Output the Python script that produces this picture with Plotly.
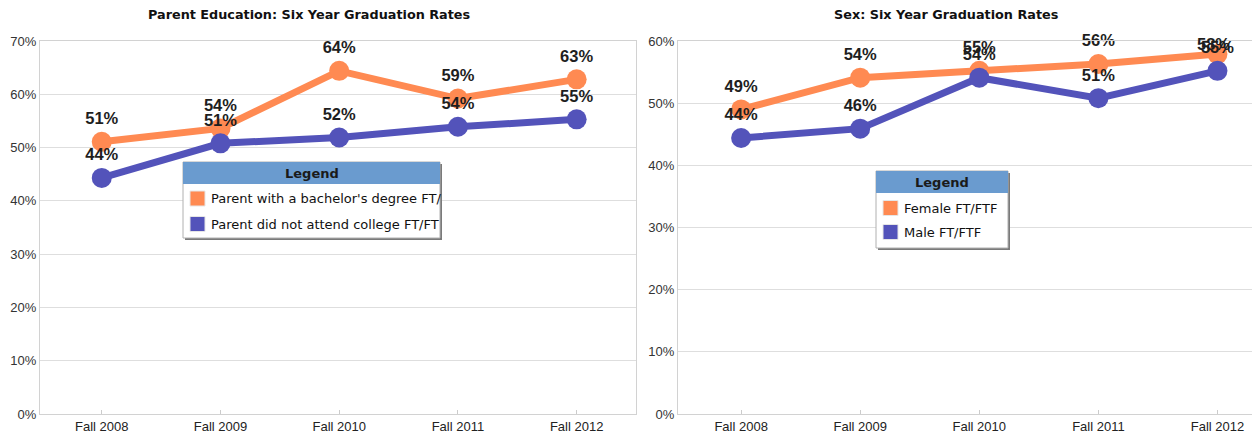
import plotly.graph_objects as go

# ---------------- data ----------------
categories = ["Fall 2008", "Fall 2009", "Fall 2010", "Fall 2011", "Fall 2012"]

parent_titles = "Parent Education: Six Year Graduation Rates"
parent_legend_text = ["Parent with a bachelor's degree FT/", "Parent did not attend college FT/FT"]
parent_bachelor = [51.1, 53.6, 64.4, 59.2, 62.8]
parent_no_college = [44.3, 50.8, 51.9, 53.9, 55.3]

sex_title = "Sex: Six Year Graduation Rates"
sex_legend_text = ["Female FT/FTF", "Male FT/FTF"]
female = [49.0, 54.1, 55.2, 56.3, 57.9]
male = [44.4, 45.9, 54.1, 50.8, 55.2]

ORANGE = "#FF8A52"
BLUE = "#5353BA"

W, H = 1252, 436
ML, MR, MT, MB = 40, 0, 41, 22
PW = W - ML - MR
PH = H - MT - MB


def px(x):
    return (x - ML) / PW


def py(y):
    return (H - MB - y) / PH


fig = go.Figure()
label_font = dict(family="Liberation Sans, Arial", size=16.5, color="#1e1e1e", weight="bold")


def fmt(v):
    return f"{v:.0f}%"


def add_series(vals, color, xa, ya, name, texts=None):
    if texts is None:
        texts = [fmt(v) for v in vals]
    fig.add_trace(go.Scatter(
        x=categories, y=vals, name=name, xaxis=xa, yaxis=ya,
        mode="lines+markers+text",
        line=dict(color=color, width=7),
        marker=dict(color=color, size=20),
        text=texts, textposition="top center",
        textfont=label_font,
        cliponaxis=False, showlegend=False, hoverinfo="skip",
    ))


add_series(parent_bachelor, ORANGE, "x", "y", parent_legend_text[0])
add_series(parent_no_college, BLUE, "x", "y", parent_legend_text[1])
# the last female label is pushed down by the top of the plot area in the original
female_texts = [fmt(v) for v in female[:-1]] + [""]
add_series(female, ORANGE, "x2", "y2", sex_legend_text[0], female_texts)
add_series(male, BLUE, "x2", "y2", sex_legend_text[1])
fig.add_annotation(x=categories[-1], y=female[-1], xref="x2", yref="y2",
                   text=fmt(female[-1]), showarrow=False, yshift=10, xshift=-4,
                   font=label_font, xanchor="center", yanchor="middle")

axis_line = "#d2d2d2"
grid = "#dedede"
tickfont = dict(family="Liberation Sans, Arial", size=13, color="#222")

xcommon = dict(type="category", showline=True, linecolor=axis_line, mirror=True,
               ticks="inside", ticklen=4, tickcolor="#cccccc", showgrid=False,
               tickfont=tickfont, fixedrange=True)
ycommon = dict(showline=True, linecolor=axis_line, mirror=True, showgrid=True,
               gridcolor=grid, zeroline=False, dtick=10, ticksuffix="%",
               tickfont=dict(family="Liberation Sans, Arial", size=13, color="#333"),
               ticks="", fixedrange=True)

fig.update_layout(
    width=W, height=H,
    margin=dict(l=ML, r=MR, t=MT, b=MB),
    paper_bgcolor="white", plot_bgcolor="white",
    xaxis=dict(domain=[0, px(636)], range=[-0.52, 4.5], anchor="y", **xcommon),
    yaxis=dict(domain=[0, 1], range=[0, 70], anchor="x", **ycommon),
    xaxis2=dict(domain=[px(678), 1], range=[-0.53, 4.29], anchor="y2", **xcommon),
    yaxis2=dict(domain=[0, 1], range=[0, 60], anchor="x2", **ycommon),
)

title_font = dict(family="DejaVu Sans", size=12.8, color="#111", weight="bold")
fig.add_annotation(text=parent_titles, xref="paper", yref="paper", x=px(309), y=py(15),
                   showarrow=False, font=title_font, xanchor="center", yanchor="middle")
fig.add_annotation(text=sex_title, xref="paper", yref="paper", x=px(946), y=py(15),
                   showarrow=False, font=title_font, xanchor="center", yanchor="middle")


def legend_box(x0, x1, y0, y1, header_h, items, colors, row_ys):
    # shadow
    fig.add_shape(type="rect", xref="paper", yref="paper",
                  x0=px(x0 + 2), x1=px(x1 + 2), y0=py(y0 + 2), y1=py(y1 + 2),
                  fillcolor="#7a7a7a", line=dict(width=0), layer="above")
    fig.add_shape(type="rect", xref="paper", yref="paper",
                  x0=px(x0), x1=px(x1), y0=py(y0), y1=py(y1),
                  fillcolor="white", line=dict(color="#b0b0b0", width=1), layer="above")
    fig.add_shape(type="rect", xref="paper", yref="paper",
                  x0=px(x0), x1=px(x1), y0=py(y0), y1=py(y0 + header_h),
                  fillcolor="#6A9BCF", line=dict(width=0), layer="above")
    fig.add_annotation(text="Legend", xref="paper", yref="paper",
                       x=px((x0 + x1) / 2), y=py(y0 + header_h / 2),
                       showarrow=False, xanchor="center", yanchor="middle",
                       font=dict(family="DejaVu Sans", size=13, color="#1a1a1a", weight="bold"))
    for label, col, ry in zip(items, colors, row_ys):
        fig.add_shape(type="rect", xref="paper", yref="paper",
                      x0=px(x0 + 7), x1=px(x0 + 22), y0=py(ry - 7.5), y1=py(ry + 7.5),
                      fillcolor=col, line=dict(color="#e6e6e6", width=1), layer="above")
        fig.add_annotation(text=label, xref="paper", yref="paper",
                           x=px(x0 + 26), y=py(ry), showarrow=False,
                           xanchor="left", yanchor="middle",
                           font=dict(family="DejaVu Sans", size=13, color="#111"))


legend_box(183, 440, 162, 238, 22, parent_legend_text, [ORANGE, BLUE], [198.5, 224])
legend_box(876, 1008, 171, 248, 22, sex_legend_text, [ORANGE, BLUE], [208, 232])

fig.write_html("out.html", config={"displayModeBar": False},
               post_script="document.body.style.margin='0px';document.body.style.padding='0px';")
